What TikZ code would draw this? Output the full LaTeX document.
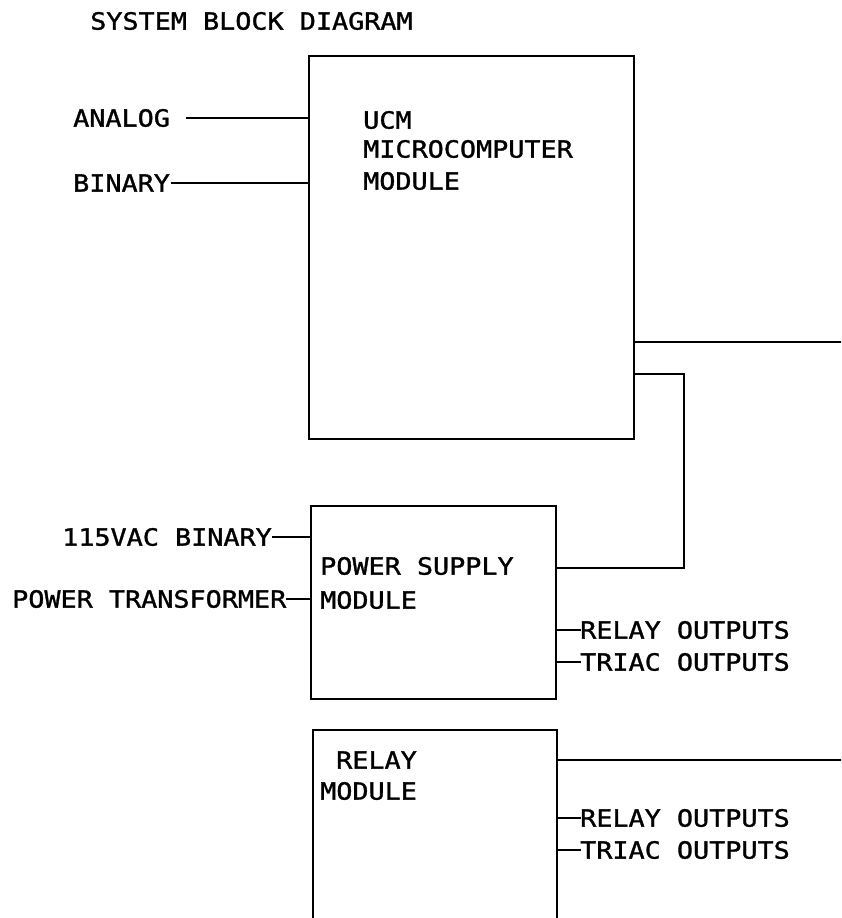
\documentclass[tikz,border=0pt]{standalone}
\usepackage{fontspec}
\newfontfamily\plotfont[FakeStretch=1.13,FakeBold=1.3]{DejaVu Sans Mono}
\begin{document}
\begin{tikzpicture}[x=1pt,y=-1pt,
  wire/.style={line width=2.2pt, line cap=rect},
  box/.style={draw, line width=2.2pt, inner sep=0pt, anchor=north west},
  lbl/.style={inner sep=0pt, anchor=west, font=\plotfont\fontsize{23.7}{28}\selectfont}]
\useasboundingbox (0,0) rectangle (841,918);
\fill[white] (0,0) rectangle (841,918);
\clip (0,0) rectangle (841,918);

% title
\node[lbl] (title) at (90,21) {SYSTEM BLOCK DIAGRAM};

% UCM microcomputer module
\node[box, minimum width=325pt, minimum height=383pt] (ucm) at (308,55) {};
\node[lbl] (ucm1) at (363,120) {UCM};
\node[lbl] (ucm2) at (363,149) {MICROCOMPUTER};
\node[lbl] (ucm3) at (363,181) {MODULE};

\node[lbl] (analog) at (73,118) {ANALOG};
\node[lbl] (binary) at (73,183) {BINARY};
\draw[wire] ([xshift=17pt]analog.east) -- (analog.east -| ucm.west);
\draw[wire] ([xshift=2pt]binary.east) -- (binary.east -| ucm.west);

% power supply module
\node[box, minimum width=245pt, minimum height=193pt] (ps) at (310,505) {};
\node[lbl] (ps1) at (320,566) {POWER SUPPLY};
\node[lbl] (ps2) at (320,600) {MODULE};

\node[lbl] (vac) at (62,537) {115VAC BINARY};
\node[lbl] (ptr) at (12,599) {POWER TRANSFORMER};
\draw[wire] ([xshift=1pt]vac.east) -- (vac.east -| ps.west);
\draw[wire] ([xshift=1pt]ptr.east) -- (ptr.east -| ps.west);

\node[lbl] (psro) at (580,630) {RELAY OUTPUTS};
\node[lbl] (psto) at (580,662) {TRIAC OUTPUTS};
\draw[wire] (psro.west -| ps.east) -- (psro.west);
\draw[wire] (psto.west -| ps.east) -- (psto.west);

% connections from UCM
\coordinate (outA) at (841,342);
\coordinate (bend1) at (684,374);
\coordinate (bend2) at (684,568);
\draw[wire] (outA -| ucm.east) -- (outA);
\draw[wire] (bend1 -| ucm.east) -- (bend1) -- (bend2) -- (bend2 -| ps.east);

% relay module
\node[box, minimum width=244pt, minimum height=220pt] (rm) at (312,729) {};
\node[lbl] (rm1) at (336,760) {RELAY};
\node[lbl] (rm2) at (320,791) {MODULE};

\coordinate (outB) at (841,760);
\draw[wire] (outB -| rm.east) -- (outB);

\node[lbl] (rmro) at (580,818) {RELAY OUTPUTS};
\node[lbl] (rmto) at (580,850) {TRIAC OUTPUTS};
\draw[wire] (rmro.west -| rm.east) -- (rmro.west);
\draw[wire] (rmto.west -| rm.east) -- (rmto.west);
\end{tikzpicture}
\end{document}
